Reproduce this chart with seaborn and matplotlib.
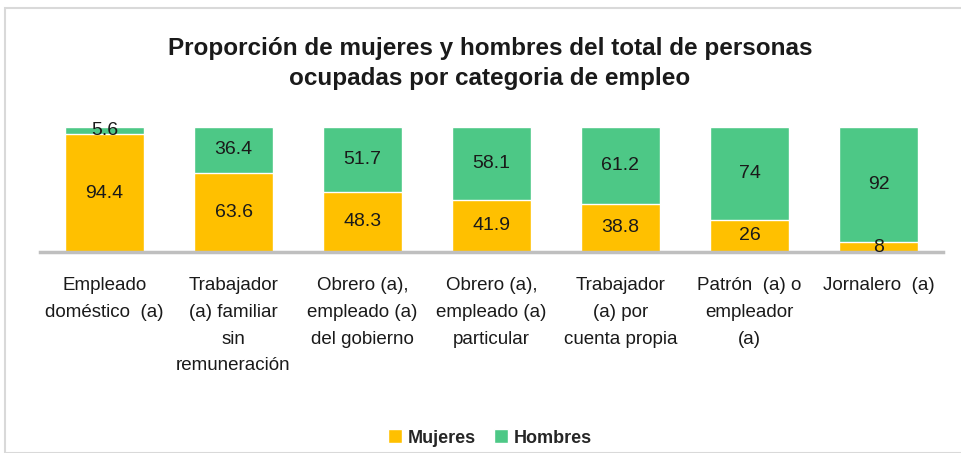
import matplotlib
matplotlib.use("Agg")
import matplotlib.pyplot as plt
import seaborn as sns
import pandas as pd
from matplotlib.patches import Rectangle

# Data
categorias = [
    "Empleado\ndoméstico  (a)",
    "Trabajador\n(a) familiar\nsin\nremuneración",
    "Obrero (a),\nempleado (a)\ndel gobierno",
    "Obrero (a),\nempleado (a)\nparticular",
    "Trabajador\n(a) por\ncuenta propia",
    "Patrón  (a) o\nempleador\n(a)",
    "Jornalero  (a)",
]
mujeres = [94.4, 63.6, 48.3, 41.9, 38.8, 26, 8]
hombres = [5.6, 36.4, 51.7, 58.1, 61.2, 74, 92]
etiquetas_m = ["94.4", "63.6", "48.3", "41.9", "38.8", "26", "8"]
etiquetas_h = ["5.6", "36.4", "51.7", "58.1", "61.2", "74", "92"]

amarillo = "#FFC000"
verde = "#4DC886"

sns.set_style("white")
plt.rcParams['font.family'] = ['Liberation Sans', 'DejaVu Sans']

df = pd.DataFrame({"cat": categorias, "Mujeres": mujeres, "Hombres": hombres})
df["Total"] = df["Mujeres"] + df["Hombres"]

fig = plt.figure(figsize=(9.61, 4.53), dpi=100)
ax = fig.add_axes([40 / 961, 201 / 453, 903 / 961, 125 / 453])

# stacked bars: total in green, women on top in yellow
sns.barplot(data=df, x="cat", y="Total", color=verde, width=0.61, saturation=1, ax=ax, label="Hombres")
sns.barplot(data=df, x="cat", y="Mujeres", color=amarillo, width=0.61, saturation=1, ax=ax, label="Mujeres")
handles, labels = ax.get_legend_handles_labels()
if ax.get_legend() is not None:
    ax.get_legend().remove()

for i in range(len(categorias)):
    ax.text(i, mujeres[i] / 2, etiquetas_m[i], ha="center", va="center", fontsize=14, color="#1a1a1a")
    ax.text(i, mujeres[i] + hombres[i] / 2, etiquetas_h[i], ha="center", va="center", fontsize=14, color="#1a1a1a")

ax.set_xlim(-0.5, 6.5)
ax.set_ylim(0, 100)
ax.set_xlabel("")
ax.set_ylabel("")
ax.set_yticks([])
ax.tick_params(axis="x", length=0, pad=18, labelsize=13.5, labelcolor="#1a1a1a")
for lbl in ax.get_xticklabels():
    lbl.set_linespacing(1.75)
    lbl.set_verticalalignment("top")
for s in ["top", "right", "left"]:
    ax.spines[s].set_visible(False)
ax.spines["bottom"].set_color("#BFBFBF")
ax.spines["bottom"].set_linewidth(2.5)

fig.suptitle("Proporción de mujeres y hombres del total de personas\nocupadas por categoria de empleo",
             x=490 / 961, y=1 - 37 / 453, fontsize=17.5, fontweight="bold", linespacing=1.4,
             color="#1a1a1a")

order = [labels.index("Mujeres"), labels.index("Hombres")]
fig.legend([handles[i] for i in order], ["Mujeres", "Hombres"], loc="center",
           bbox_to_anchor=(490 / 961, 1 - 438 / 453), ncol=2, frameon=False,
           prop={"weight": "bold", "size": 13}, handlelength=0.8, handleheight=0.8,
           handletextpad=0.3, columnspacing=1.0)

fig.patches.append(Rectangle((5 / 961, 0), 1.0, 1 - 8 / 453, transform=fig.transFigure,
                             fill=False, edgecolor="#D9D9D9", linewidth=1.5))

fig.savefig("out.png", dpi=100)
